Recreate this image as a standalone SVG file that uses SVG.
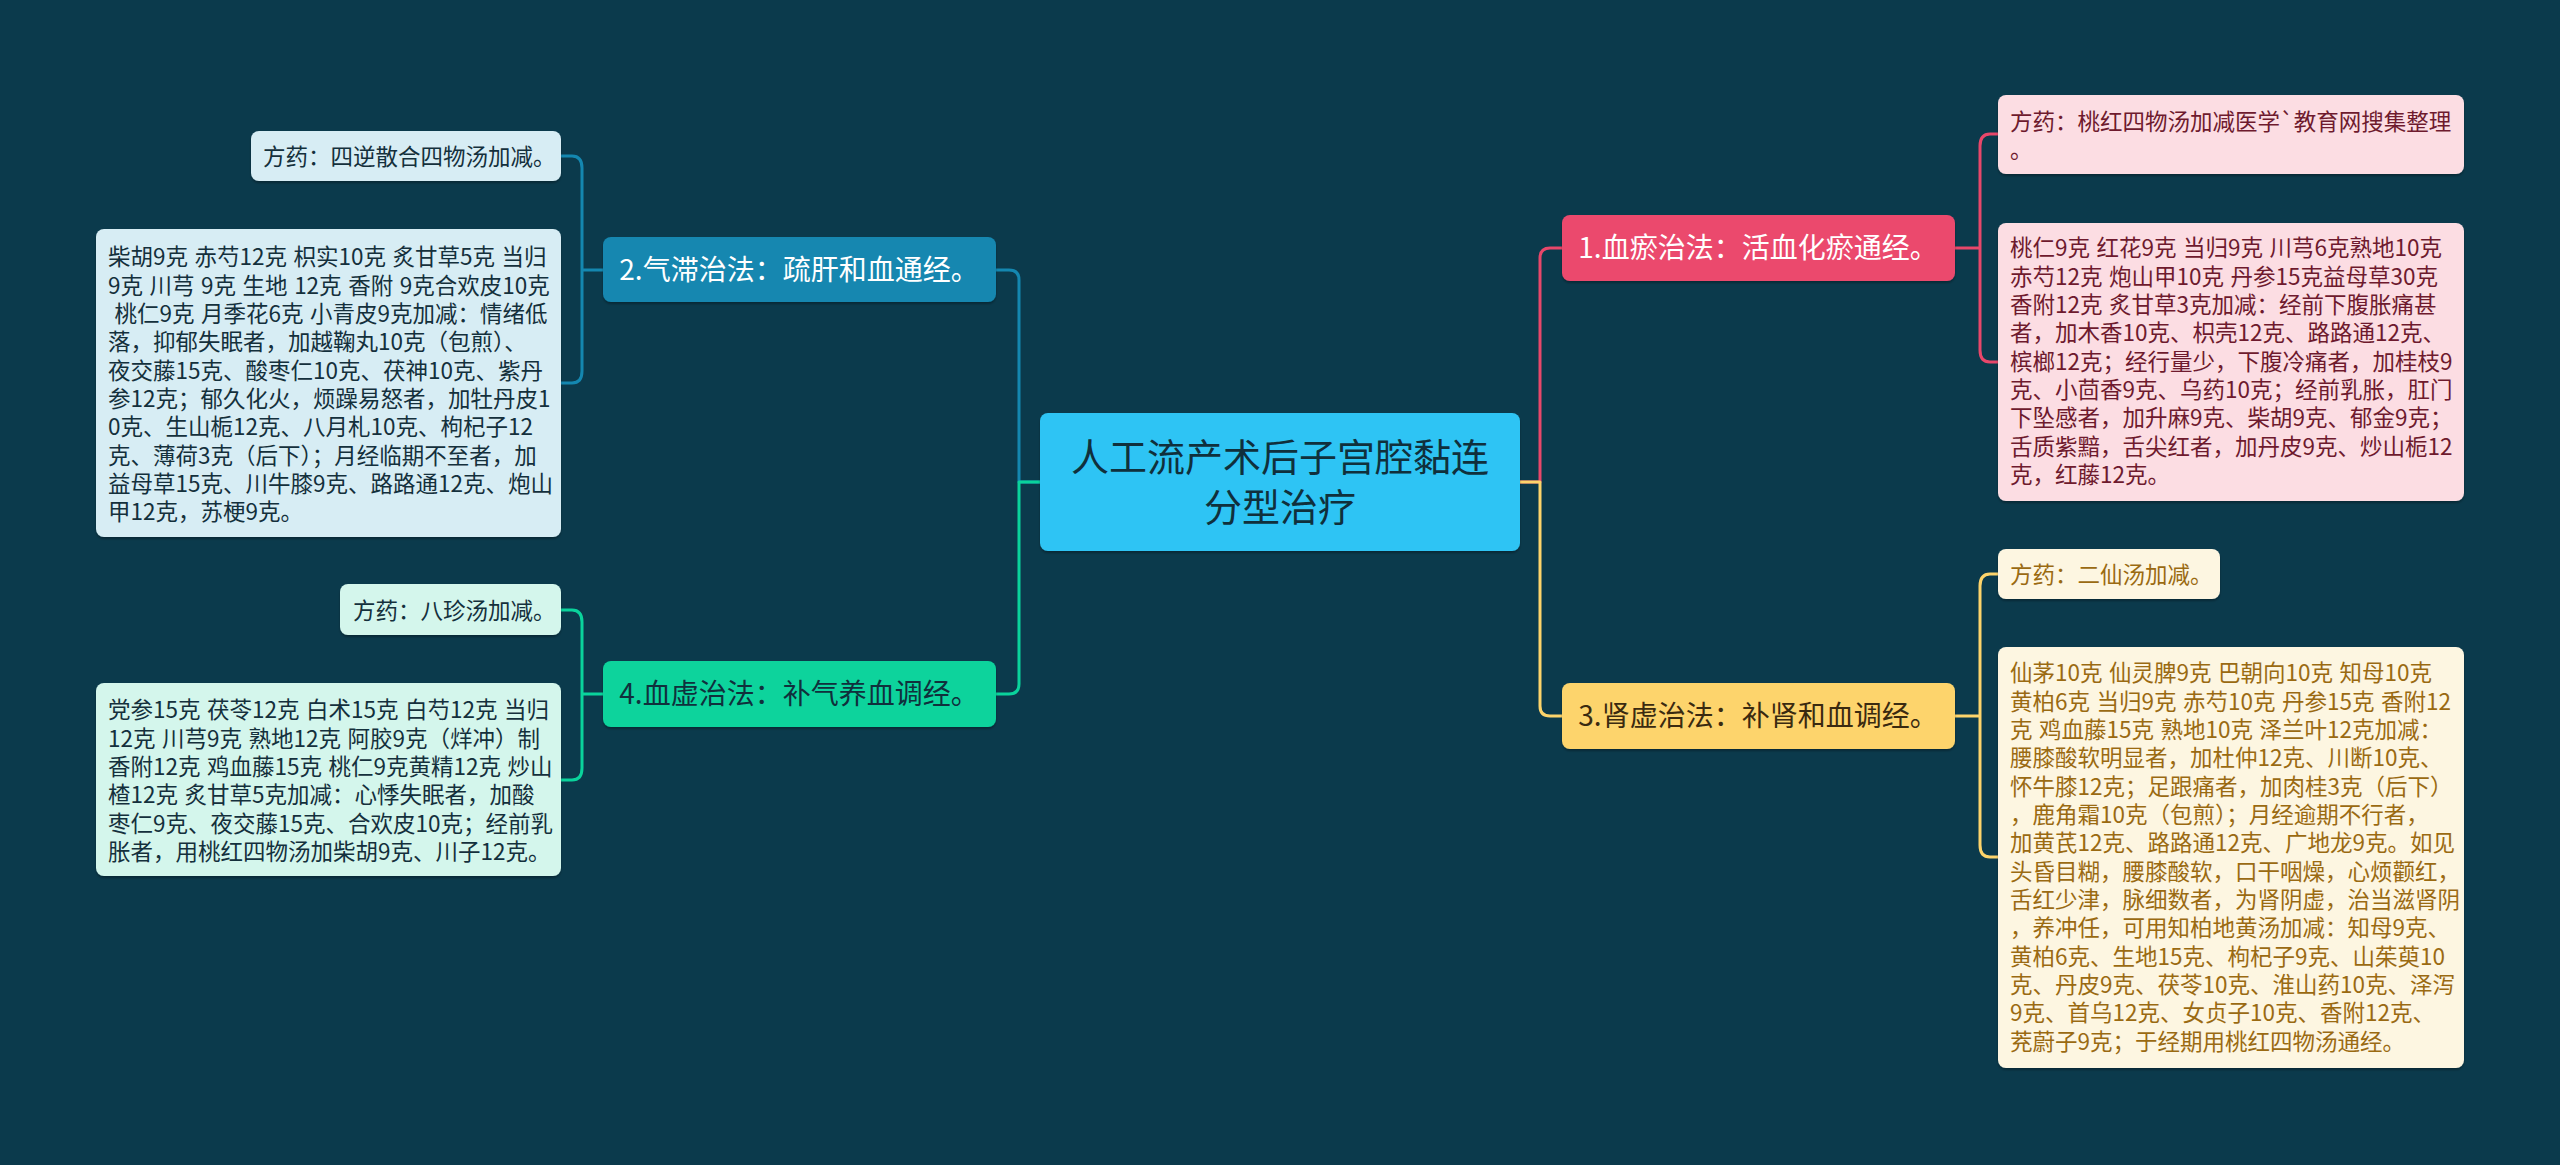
<svg xmlns="http://www.w3.org/2000/svg" width="2560" height="1165" viewBox="0 0 2560 1165">
<defs>
<style>
text{font-family:"Noto Sans CJK SC","Noto Sans",sans-serif;}
.leaf{font-size:22.5px;word-spacing:1.5px;}
.br{font-size:28px;text-anchor:middle;}
.conn{fill:none;stroke-width:3;stroke-linecap:round;stroke-linejoin:round;}
</style>
<filter id="sh" x="-5%" y="-5%" width="110%" height="120%">
<feDropShadow dx="0" dy="2" stdDeviation="1" flood-color="#000" flood-opacity="0.3"/>
</filter>
</defs>
<rect width="2560" height="1165" fill="#0b3a4c"/>
<g id="connectors">
<path class="conn" stroke="#e8476a" d="M1520 482 H1540 V258 Q1540 248 1550 248 H1562"/>
<path class="conn" stroke="#fdd46b" d="M1520 482 H1540 V706 Q1540 716 1550 716 H1562"/>
<path class="conn" stroke="#1487b0" d="M1040 482 H1019 V280 Q1019 270 1009 270 H996"/>
<path class="conn" stroke="#0ad39c" d="M1040 482 H1019 V684 Q1019 694 1009 694 H996"/>
<path class="conn" stroke="#e8476a" d="M1955 248 H1980 M1980 248 V146 Q1980 134 1990 134 H1998 M1980 248 V350 Q1980 362 1990 362 H1998"/>
<path class="conn" stroke="#fdd46b" d="M1955 716 H1980 M1980 716 V586 Q1980 574 1990 574 H1998 M1980 716 V845 Q1980 857 1990 857 H1998"/>
<path class="conn" stroke="#1487b0" d="M603 270 H582 M582 270 V168 Q582 156 572 156 H561 M582 270 V371 Q582 383 572 383 H561"/>
<path class="conn" stroke="#0ad39c" d="M603 694 H582 M582 694 V622 Q582 610 572 610 H561 M582 694 V768 Q582 780 572 780 H561"/>
</g>
<g id="center">
<rect x="1040" y="413" width="480" height="138" rx="8" fill="#2fc4f4" filter="url(#sh)"/>
<text x="1280" y="471" font-size="38" text-anchor="middle" fill="#10303c">人工流产术后子宫腔黏连</text>
<text x="1280" y="521" font-size="38" text-anchor="middle" fill="#10303c">分型治疗</text>
</g>
<g id="n1">
<rect x="1562" y="215" width="393" height="66" rx="8" fill="#eb4a6d" filter="url(#sh)"/>
<text class="br" x="1758" y="258" fill="#ffffff">1.血瘀治法：活血化瘀通经。</text>
</g>
<g id="n3">
<rect x="1562" y="683" width="393" height="66" rx="8" fill="#fdd46c" filter="url(#sh)"/>
<text class="br" x="1758" y="726" fill="#3a2a10">3.肾虚治法：补肾和血调经。</text>
</g>
<g id="n2">
<rect x="603" y="237" width="393" height="65" rx="8" fill="#1487b0" filter="url(#sh)"/>
<text class="br" x="799" y="280" fill="#ffffff">2.气滞治法：疏肝和血通经。</text>
</g>
<g id="n4">
<rect x="603" y="661" width="393" height="66" rx="8" fill="#0ad39c" filter="url(#sh)"/>
<text class="br" x="799" y="704" fill="#10303c">4.血虚治法：补气养血调经。</text>
</g>
<g id="l1a">
<rect x="1998" y="95" width="466" height="79" rx="8" fill="#fcdde3" filter="url(#sh)"/>
<text class="leaf" fill="#6e1a2e"><tspan x="2010" y="130">方药：桃红四物汤加减医学`教育网搜集整理</tspan><tspan x="2010" y="158">。</tspan></text>
</g>
<g id="l1b">
<rect x="1998" y="223" width="466" height="278" rx="8" fill="#fcdde3" filter="url(#sh)"/>
<text class="leaf" fill="#6e1a2e"><tspan x="2010" y="256">桃仁9克 红花9克 当归9克 川芎6克熟地10克</tspan><tspan x="2010" y="284.5">赤芍12克 炮山甲10克 丹参15克益母草30克</tspan><tspan x="2010" y="313">香附12克 炙甘草3克加减：经前下腹胀痛甚</tspan><tspan x="2010" y="341">者，加木香10克、枳壳12克、路路通12克、</tspan><tspan x="2010" y="369.5">槟榔12克；经行量少，下腹冷痛者，加桂枝9</tspan><tspan x="2010" y="398">克、小茴香9克、乌药10克；经前乳胀，肛门</tspan><tspan x="2010" y="426">下坠感者，加升麻9克、柴胡9克、郁金9克；</tspan><tspan x="2010" y="454.5">舌质紫黯，舌尖红者，加丹皮9克、炒山栀12</tspan><tspan x="2010" y="483">克，红藤12克。</tspan></text>
</g>
<g id="l3a">
<rect x="1998" y="549" width="222" height="50" rx="8" fill="#fdf6e1" filter="url(#sh)"/>
<text class="leaf" x="2010" y="583" fill="#9a6a12">方药：二仙汤加减。</text>
</g>
<g id="l3b">
<rect x="1998" y="647" width="466" height="421" rx="8" fill="#fdf6e1" filter="url(#sh)"/>
<text class="leaf" fill="#9a6a12"><tspan x="2010" y="681">仙茅10克 仙灵脾9克 巴朝向10克 知母10克</tspan><tspan x="2010" y="709.5">黄柏6克 当归9克 赤芍10克 丹参15克 香附12</tspan><tspan x="2010" y="738">克 鸡血藤15克 熟地10克 泽兰叶12克加减：</tspan><tspan x="2010" y="766">腰膝酸软明显者，加杜仲12克、川断10克、</tspan><tspan x="2010" y="794.5">怀牛膝12克；足跟痛者，加肉桂3克（后下）</tspan><tspan x="2010" y="823">，鹿角霜10克（包煎）；月经逾期不行者，</tspan><tspan x="2010" y="851">加黄芪12克、路路通12克、广地龙9克。如见</tspan><tspan x="2010" y="879.5">头昏目糊，腰膝酸软，口干咽燥，心烦颧红，</tspan><tspan x="2010" y="908">舌红少津，脉细数者，为肾阴虚，治当滋肾阴</tspan><tspan x="2010" y="936">，养冲任，可用知柏地黄汤加减：知母9克、</tspan><tspan x="2010" y="964.5">黄柏6克、生地15克、枸杞子9克、山茱萸10</tspan><tspan x="2010" y="993">克、丹皮9克、茯苓10克、淮山药10克、泽泻</tspan><tspan x="2010" y="1021">9克、首乌12克、女贞子10克、香附12克、</tspan><tspan x="2010" y="1049.5">茺蔚子9克；于经期用桃红四物汤通经。</tspan></text>
</g>
<g id="l2a">
<rect x="251" y="131" width="310" height="50" rx="8" fill="#d7edf4" filter="url(#sh)"/>
<text class="leaf" x="263" y="165" fill="#14303c">方药：四逆散合四物汤加减。</text>
</g>
<g id="l2b">
<rect x="96" y="229" width="465" height="308" rx="8" fill="#d7edf4" filter="url(#sh)"/>
<text class="leaf" fill="#14303c"><tspan x="108" y="265">柴胡9克 赤芍12克 枳实10克 炙甘草5克 当归</tspan><tspan x="108" y="293.5">9克 川芎 9克 生地 12克 香附 9克合欢皮10克</tspan><tspan x="108" y="322"> 桃仁9克 月季花6克 小青皮9克加减：情绪低</tspan><tspan x="108" y="350">落，抑郁失眠者，加越鞠丸10克（包煎）、</tspan><tspan x="108" y="378.5">夜交藤15克、酸枣仁10克、茯神10克、紫丹</tspan><tspan x="108" y="407">参12克；郁久化火，烦躁易怒者，加牡丹皮1</tspan><tspan x="108" y="435">0克、生山栀12克、八月札10克、枸杞子12</tspan><tspan x="108" y="463.5">克、薄荷3克（后下）；月经临期不至者，加</tspan><tspan x="108" y="492">益母草15克、川牛膝9克、路路通12克、炮山</tspan><tspan x="108" y="520">甲12克，苏梗9克。</tspan></text>
</g>
<g id="l4a">
<rect x="340" y="584" width="221" height="51" rx="8" fill="#d4f6ec" filter="url(#sh)"/>
<text class="leaf" x="353" y="619" fill="#14303c">方药：八珍汤加减。</text>
</g>
<g id="l4b">
<rect x="96" y="683" width="465" height="193" rx="8" fill="#d4f6ec" filter="url(#sh)"/>
<text class="leaf" fill="#14303c"><tspan x="108" y="718">党参15克 茯苓12克 白术15克 白芍12克 当归</tspan><tspan x="108" y="746.5">12克 川芎9克 熟地12克 阿胶9克（烊冲）制</tspan><tspan x="108" y="775">香附12克 鸡血藤15克 桃仁9克黄精12克 炒山</tspan><tspan x="108" y="803">楂12克 炙甘草5克加减：心悸失眠者，加酸</tspan><tspan x="108" y="831.5">枣仁9克、夜交藤15克、合欢皮10克；经前乳</tspan><tspan x="108" y="860">胀者，用桃红四物汤加柴胡9克、川子12克。</tspan></text>
</g>
</svg>
